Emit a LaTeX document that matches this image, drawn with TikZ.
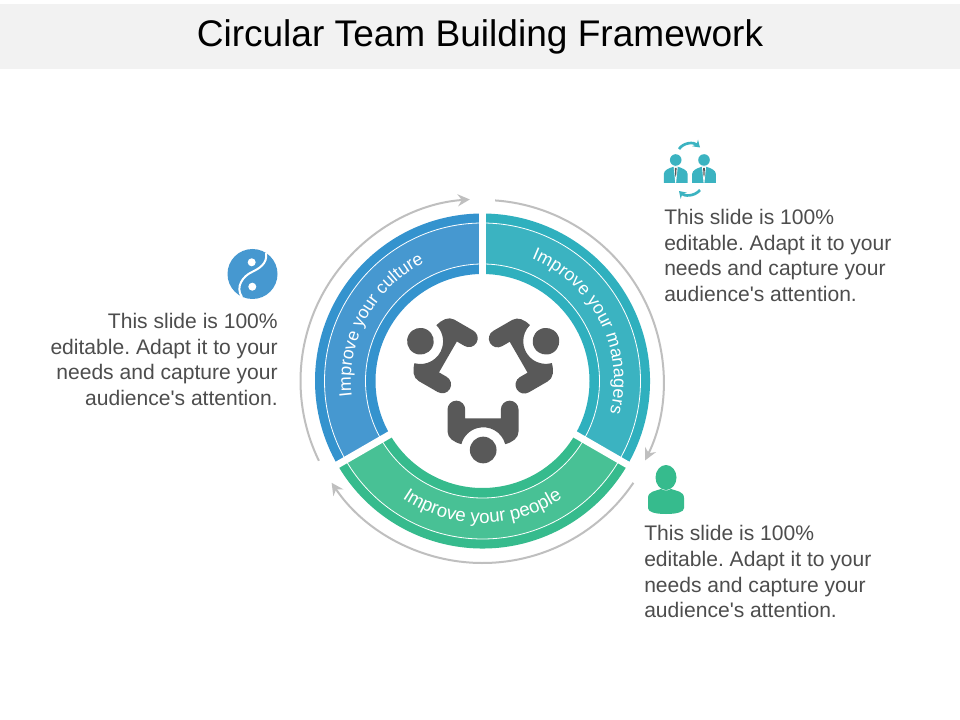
\documentclass[tikz,border=0pt]{standalone}
\usepackage{fontspec}
\setmainfont{Liberation Sans}
\usetikzlibrary{arrows.meta,decorations.text}
\definecolor{bluedark}{HTML}{3493CE}
\definecolor{bluelight}{HTML}{4698D0}
\definecolor{tealdark}{HTML}{2FB0BE}
\definecolor{teallight}{HTML}{3BB3C1}
\definecolor{greendark}{HTML}{36BB8D}
\definecolor{greenlight}{HTML}{48C195}
\definecolor{iconblue}{HTML}{4698D0}
\definecolor{bodytext}{HTML}{4D4D4D}
\definecolor{icongrey}{HTML}{595959}
\definecolor{arrowgrey}{HTML}{BFBFBF}
\newcommand{\annsec}[5]{\fill[#1] (#2:#4) arc[start angle=#2,end angle=#3,radius=#4] -- (#3:#5) arc[start angle=#3,end angle=#2,radius=#5] -- cycle;}
\newcommand{\seatedperson}{%
  \fill[icongrey] (0,-217.5) circle[radius=40];
  \fill[icongrey] (106,-96) -- (106,-162) .. controls (106,-182) and (88,-194) .. (66,-200)
    arc[start angle=14.8,end angle=165.2,radius=68]
    .. controls (-88,-194) and (-107,-182) .. (-107,-162) -- (-107,-96)
    arc[start angle=180,end angle=0,radius=26.5] -- (-54,-122.5) -- (53,-122.5) -- (53,-96)
    arc[start angle=180,end angle=0,radius=26.5] -- cycle;}
\newcommand{\suitperson}[1]{%
  \begin{scope}[shift={(#1,0)}]
  \fill[teallight] (0,-160) circle[radius=5.8];
  \fill[teallight] (-11.9,-183) -- (-11.9,-174) .. controls (-11.9,-170) and (-6,-168) .. (-3,-167) -- (3,-167) .. controls (6,-168) and (11.9,-170) .. (11.9,-174) -- (11.9,-183) -- cycle;
  \fill[white] (-2,-167) -- (2,-167) -- (0.4,-183) -- (-0.4,-183) -- cycle;
  \fill[icongrey] (-0.9,-168) -- (0.9,-168) -- (0.5,-175) -- (0,-177) -- (-0.5,-175) -- cycle;
  \end{scope}}
\tikzset{
  guide/.style={draw=white,line width=0.6pt},
  cycleArrow/.style={draw=arrowgrey,line width=1.5pt,-{Stealth[length=9pt,width=9pt,inset=3pt]}},
  gap/.style={draw=white,line width=5.25pt},
  desc/.style={font=\frenchspacing\fontsize{15.8}{19.3}\selectfont,text=bodytext,inner sep=0pt},
  ringlabel/.style={decorate,decoration={text along path,text align=center,text color=white,text={#1}}},
  iconArrow/.style={draw=teallight,line width=2pt,-{Stealth[length=5pt,width=6.5pt]}}
}
\begin{document}
\begin{tikzpicture}[x=0.75pt,y=0.75pt]
\useasboundingbox (0,0) rectangle (960,-720);
\fill[white] (0,0) rectangle (960,-720);
\fill[black!5] (0,-4) rectangle (960,-69);
\node[font=\fontsize{27.8}{32}\selectfont,text=black,inner sep=0pt] (title) at (480,-37) {Circular Team Building Framework};

\begin{scope}[shift={(482.5,-381)}]
  \annsec{bluedark}{90}{210}{167.5}{107}
  \annsec{tealdark}{-30}{90}{167.5}{107}
  \annsec{greendark}{210}{330}{167.5}{107}
  \annsec{bluelight}{90}{210}{158}{117}
  \annsec{teallight}{-30}{90}{158}{117}
  \annsec{greenlight}{210}{330}{158}{117}
  \foreach \r in {158,117} {
    \draw[guide] (90:\r) arc[start angle=90,end angle=450,radius=\r];
  }
  \draw[gap] (90:100) -- (90:172);
  \draw[gap] (210:100) -- (210:172);
  \draw[gap] (330:100) -- (330:172);

  \draw[cycleArrow] (206:182) arc[start angle=206,end angle=94,radius=182];
  \draw[cycleArrow] (86:181) arc[start angle=86,end angle=-26,radius=181];
  \draw[cycleArrow] (-34:182) arc[start angle=-34,end angle=-146,radius=182];

  \path[ringlabel={|\fontsize{13.3}{14}\selectfont|Improve your culture}] (196.5:131.5) arc[start angle=196.5,end angle=106.5,radius=131.5];
  \path[ringlabel={|\fontsize{13.4}{14}\selectfont|Improve your managers}] (75:131.5) arc[start angle=75,end angle=-21,radius=131.5];
  \path[ringlabel={|\fontsize{14}{14}\selectfont|Improve your people}] (222:142) arc[start angle=222,end angle=318,radius=142];
\end{scope}

\foreach \a in {0,120,-120} {
  \begin{scope}[shift={(483.2,-377.5)},rotate=\a,x=0.25pt,y=0.25pt]
    \seatedperson
  \end{scope}
}

% yin-yang
\fill[iconblue] (252.5,-274) circle[radius=25];
\draw[white,line width=1.5pt] (266,-253) .. controls (268,-264) and (258,-269) .. (252,-272) .. controls (243,-276) and (235,-287) .. (242,-297);
\fill[white] (251.7,-262.3) circle[radius=4];
\fill[white] (252.3,-286.7) circle[radius=4];
\node[desc,align=right,anchor=north east] (leftText) at (278,-313) {This slide is 100\%\\editable. Adapt it to your\\needs and capture your\\audience\textquotesingle s attention.};

% team icon
\suitperson{675.7}
\suitperson{704}
\draw[iconArrow] (679,-149) .. controls (684,-142) and (694,-142) .. (700,-147.5);
\draw[iconArrow] (700,-190) .. controls (694,-197) and (684,-196) .. (679,-191);
\node[desc,align=left,anchor=north west] (rightText) at (664,-209) {This slide is 100\%\\editable. Adapt it to your\\needs and capture your\\audience\textquotesingle s attention.};

% person icon
\fill[greendark] (666,-477.5) ellipse[x radius=10.5,y radius=12.5];
\fill[greendark] (648,-508) -- (648,-498) .. controls (648,-491) and (656,-491) .. (661,-489) .. controls (664,-491) and (668,-491) .. (671,-489) .. controls (676,-491) and (684,-491) .. (684,-498) -- (684,-508) .. controls (684,-512) and (677,-514) .. (666,-514) .. controls (655,-514) and (648,-512) .. (648,-508) -- cycle;
\node[desc,align=left,anchor=north west] (lowerText) at (644,-525) {This slide is 100\%\\editable. Adapt it to your\\needs and capture your\\audience\textquotesingle s attention.};
\end{tikzpicture}
\end{document}
